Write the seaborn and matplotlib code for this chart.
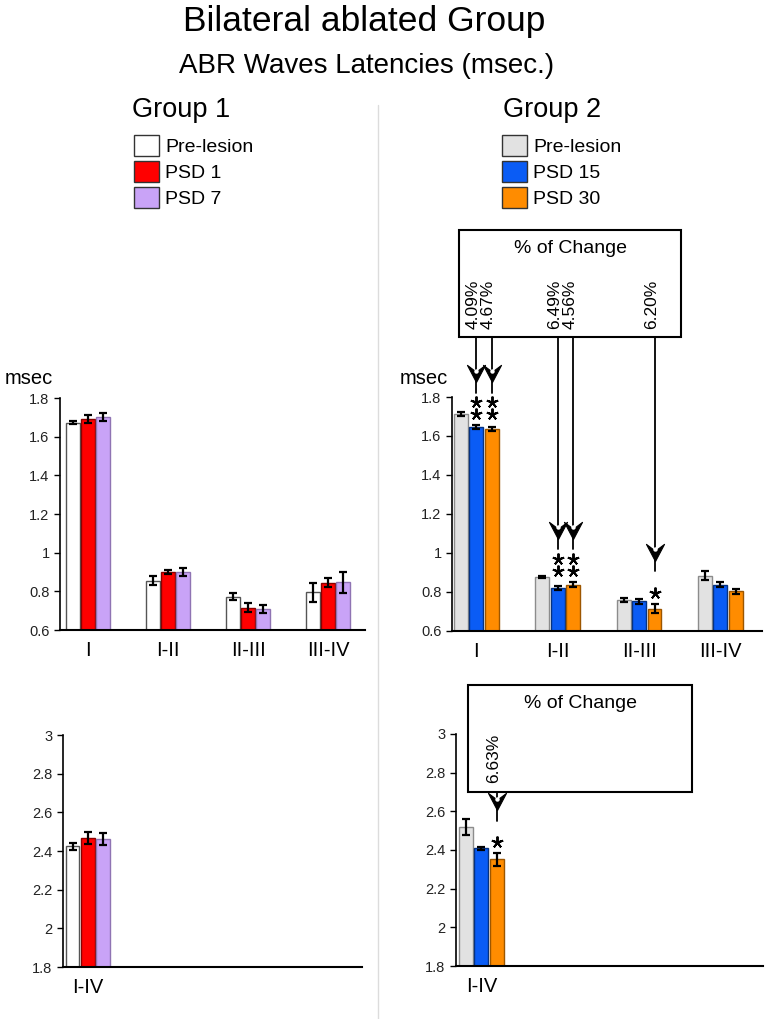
import numpy as np
import pandas as pd
import matplotlib
matplotlib.use("Agg")
import matplotlib.pyplot as plt
import seaborn as sns
from matplotlib.path import Path
from matplotlib.patches import Patch, Rectangle
from matplotlib.lines import Line2D
from matplotlib.container import BarContainer

sns.set_style("ticks")
plt.rcParams['font.family'] = ['Liberation Sans', 'DejaVu Sans']
plt.rcParams['text.color'] = 'black'

# categories
waves = ["I", "I-II", "II-III", "III-IV"]
total_wave = ["I-IV"]

# Group 1 (PSD 1 / PSD 7)
g1_conditions = ["Pre-lesion", "PSD 1", "PSD 7"]
g1_pre = [1.672, 0.855, 0.773, 0.795]
g1_psd1 = [1.690, 0.900, 0.716, 0.845]
g1_psd7 = [1.700, 0.900, 0.707, 0.847]
g1_pre_err = [0.008, 0.022, 0.020, 0.050]
g1_psd1_err = [0.020, 0.012, 0.022, 0.024]
g1_psd7_err = [0.020, 0.022, 0.021, 0.054]
g1_total = [2.424, 2.467, 2.462]
g1_total_err = [0.018, 0.030, 0.030]

# Group 2 (PSD 15 / PSD 30)
g2_conditions = ["Pre-lesion", "PSD 15", "PSD 30"]
g2_pre = [1.713, 0.877, 0.759, 0.884]
g2_psd15 = [1.644, 0.820, 0.752, 0.838]
g2_psd30 = [1.634, 0.838, 0.714, 0.804]
g2_pre_err = [0.010, 0.003, 0.010, 0.024]
g2_psd15_err = [0.010, 0.010, 0.012, 0.012]
g2_psd30_err = [0.010, 0.012, 0.023, 0.012]
g2_total = [2.519, 2.408, 2.351]
g2_total_err = [0.040, 0.010, 0.032]

# % of change annotations (hue index, category index)
g2_pct_labels = ["4.09%", "4.67%", "6.49%", "4.56%", "6.20%"]
g2_pct_bars = [(1, 0), (2, 0), (1, 1), (2, 1), (2, 2)]
g2_pct_stars = [2, 2, 2, 2, 1]
g2_total_pct_labels = ["6.63%"]
g2_total_pct_bars = [(2, 0)]
g2_total_pct_stars = [1]

g1_colors = ["#ffffff", "#ff0000", "#c9a3f7"]
g1_edges = ["#555555", "#8a0000", "#8f74b3"]
g2_colors = ["#e2e2e2", "#0a5cf5", "#ff8c00"]
g2_edges = ["#8c8c8c", "#06327f", "#9c5600"]


def make_df(cats, conds, series):
    rows = []
    for cond, vals in zip(conds, series):
        for c, v in zip(cats, vals):
            rows.append({"wave": c, "cond": cond, "value": v})
    return pd.DataFrame(rows)


def bar_containers(ax):
    return [c for c in ax.containers if isinstance(c, BarContainer)]


def draw_panel(ax, cats, conds, series, errs, colors, edges, ylim, yticks, xlim):
    df = make_df(cats, conds, series)
    sns.barplot(data=df, x="wave", y="value", hue="cond", order=cats, hue_order=conds,
                palette=colors, saturation=1, width=0.57, gap=0.1, errorbar=None,
                legend=False, ax=ax)
    for i, cont in enumerate(bar_containers(ax)):
        for j, p in enumerate(cont.patches):
            p.set_edgecolor(edges[i])
            p.set_linewidth(1.0)
            xc = p.get_x() + p.get_width() / 2
            ax.errorbar(xc, series[i][j], yerr=errs[i][j], fmt="none", ecolor="black",
                        elinewidth=1.6, capsize=3, capthick=1.6, zorder=5)
    ax.set_ylim(*ylim)
    ax.set_xlim(*xlim)
    ax.set_yticks(yticks)
    ax.set_yticklabels(["%g" % t for t in yticks])
    ax.set_xlabel("")
    ax.set_ylabel("")
    sns.despine(ax=ax)
    ax.spines["left"].set_linewidth(1.2)
    ax.spines["bottom"].set_linewidth(1.5)
    ax.spines["left"].set_color("black")
    ax.spines["bottom"].set_color("black")
    ax.tick_params(axis="y", direction="out", length=4, width=1, labelsize=10.5,
                   colors="black", labelcolor="#222222")
    ax.tick_params(axis="x", length=0, labelsize=14.5, pad=8, labelcolor="black")


# arrowhead shape (barbed, tip pointing down)
head = Path([(0, -1), (1.0, 0.9), (0, 0.15), (-1.0, 0.9), (0, -1)],
            [Path.MOVETO, Path.LINETO, Path.LINETO, Path.LINETO, Path.CLOSEPOLY])


def change_box(ax, box, title_y, text_y, labels, bars, stars, series, errs):
    x0, x1, y0, y1 = box
    conts = bar_containers(ax)
    ax.add_patch(Rectangle((x0, y0), x1 - x0, y1 - y0, fill=True, facecolor="white",
                           edgecolor="black", lw=1.5, clip_on=False, zorder=6))
    ax.text((x0 + x1) / 2, title_y, "% of Change", ha="center", va="center",
            fontsize=14, zorder=7)
    for lab, (h, c), n in zip(labels, bars, stars):
        p = conts[h].patches[c]
        xc = p.get_x() + p.get_width() / 2
        # base height = highest error bar among annotated bars of the same category
        base = max(series[hh][cc] + errs[hh][cc] for hh, cc in bars if cc == c)
        star_ys = [base + 0.057 + 0.062 * k for k in range(n)]
        ax.plot([xc] * n, star_ys, linestyle="none", marker=(5, 2, 0), markersize=8.5,
                markeredgewidth=1.4, color="black", zorder=7, clip_on=False)
        top_star = base + 0.057 + 0.062
        line_end = top_star + 0.05
        arrow_y = line_end + 0.10
        ax.plot([xc, xc], [y0, line_end], color="black", lw=1.3, clip_on=False, zorder=6)
        ax.plot([xc], [arrow_y], marker=head, markersize=13, markerfacecolor="black",
                markeredgecolor="black", markeredgewidth=0.8, clip_on=False, zorder=7)
        ax.plot([xc], [arrow_y + 0.012], marker="o", markersize=3.2, markerfacecolor="white",
                markeredgewidth=0, clip_on=False, zorder=8)
        ax.text(xc - 0.04, text_y, lab, rotation=90, ha="center", va="bottom",
                fontsize=12.5, zorder=7)


fig = plt.figure(figsize=(7.68, 10.19), dpi=100)

ax1 = fig.add_axes([0.0781, 0.3817, 0.397, 0.2277])
ax2 = fig.add_axes([0.5885, 0.3808, 0.4036, 0.2296])
ax3 = fig.add_axes([0.0820, 0.0510, 0.3893, 0.2277])
ax4 = fig.add_axes([0.5938, 0.0520, 0.3997, 0.2277])

top_ticks = [0.6, 0.8, 1.0, 1.2, 1.4, 1.6, 1.8]
bot_ticks = [1.8, 2.0, 2.2, 2.4, 2.6, 2.8, 3.0]

g1_series = [g1_pre, g1_psd1, g1_psd7]
g1_errs = [g1_pre_err, g1_psd1_err, g1_psd7_err]
g2_series = [g2_pre, g2_psd15, g2_psd30]
g2_errs = [g2_pre_err, g2_psd15_err, g2_psd30_err]

draw_panel(ax1, waves, g1_conditions, g1_series, g1_errs, g1_colors, g1_edges,
           (0.6, 1.8), top_ticks, (-0.35, 3.46))
draw_panel(ax2, waves, g2_conditions, g2_series, g2_errs, g2_colors, g2_edges,
           (0.6, 1.8), top_ticks, (-0.30, 3.51))
draw_panel(ax3, total_wave, g1_conditions, [[v] for v in g1_total],
           [[e] for e in g1_total_err], g1_colors, g1_edges, (1.8, 3.0), bot_ticks,
           (-0.31, 3.42))
draw_panel(ax4, total_wave, g2_conditions, [[v] for v in g2_total],
           [[e] for e in g2_total_err], g2_colors, g2_edges, (1.8, 3.0), bot_ticks,
           (-0.31, 3.46))

change_box(ax2, (-0.21, 2.52, 2.108, 2.656), 2.564, 2.149, g2_pct_labels, g2_pct_bars,
           g2_pct_stars, g2_series, g2_errs)
change_box(ax4, (-0.16, 2.59, 2.70, 3.254), 3.16, 2.746, g2_total_pct_labels,
           g2_total_pct_bars, g2_total_pct_stars, [[v] for v in g2_total],
           [[e] for e in g2_total_err])

# titles
fig.text(183 / 768, 1 - 31 / 1019, "Bilateral ablated Group", ha="left", va="baseline", fontsize=25.5)
fig.text(179 / 768, 1 - 73 / 1019, "ABR Waves Latencies (msec.)", ha="left", va="baseline", fontsize=20)
fig.text(132 / 768, 1 - 117 / 1019, "Group 1", ha="left", va="baseline", fontsize=19.5)
fig.text(503 / 768, 1 - 117 / 1019, "Group 2", ha="left", va="baseline", fontsize=19.5)
fig.text(5 / 768, 1 - 378 / 1019, "msec", ha="left", va="center", fontsize=14.5)
fig.text(400 / 768, 1 - 378 / 1019, "msec", ha="left", va="center", fontsize=14.5)

# separator
fig.add_artist(Line2D([0.4922, 0.4922], [0, 0.897], color="#dcdcdc", lw=1))

# legends
for conds, colors, x in [(g1_conditions, g1_colors, 134 / 768),
                         (g2_conditions, g2_colors, 502 / 768)]:
    handles = [Patch(facecolor=c, edgecolor="#333333", lw=1, label=l)
               for c, l in zip(colors, conds)]
    fig.legend(handles=handles, loc="upper left", bbox_to_anchor=(x, 1 - 135 / 1019),
               frameon=False, fontsize=14, handlelength=1.29, handleheight=1.29,
               handletextpad=0.3, labelspacing=0.25, borderpad=0, borderaxespad=0)

fig.savefig("out.png", dpi=100)
